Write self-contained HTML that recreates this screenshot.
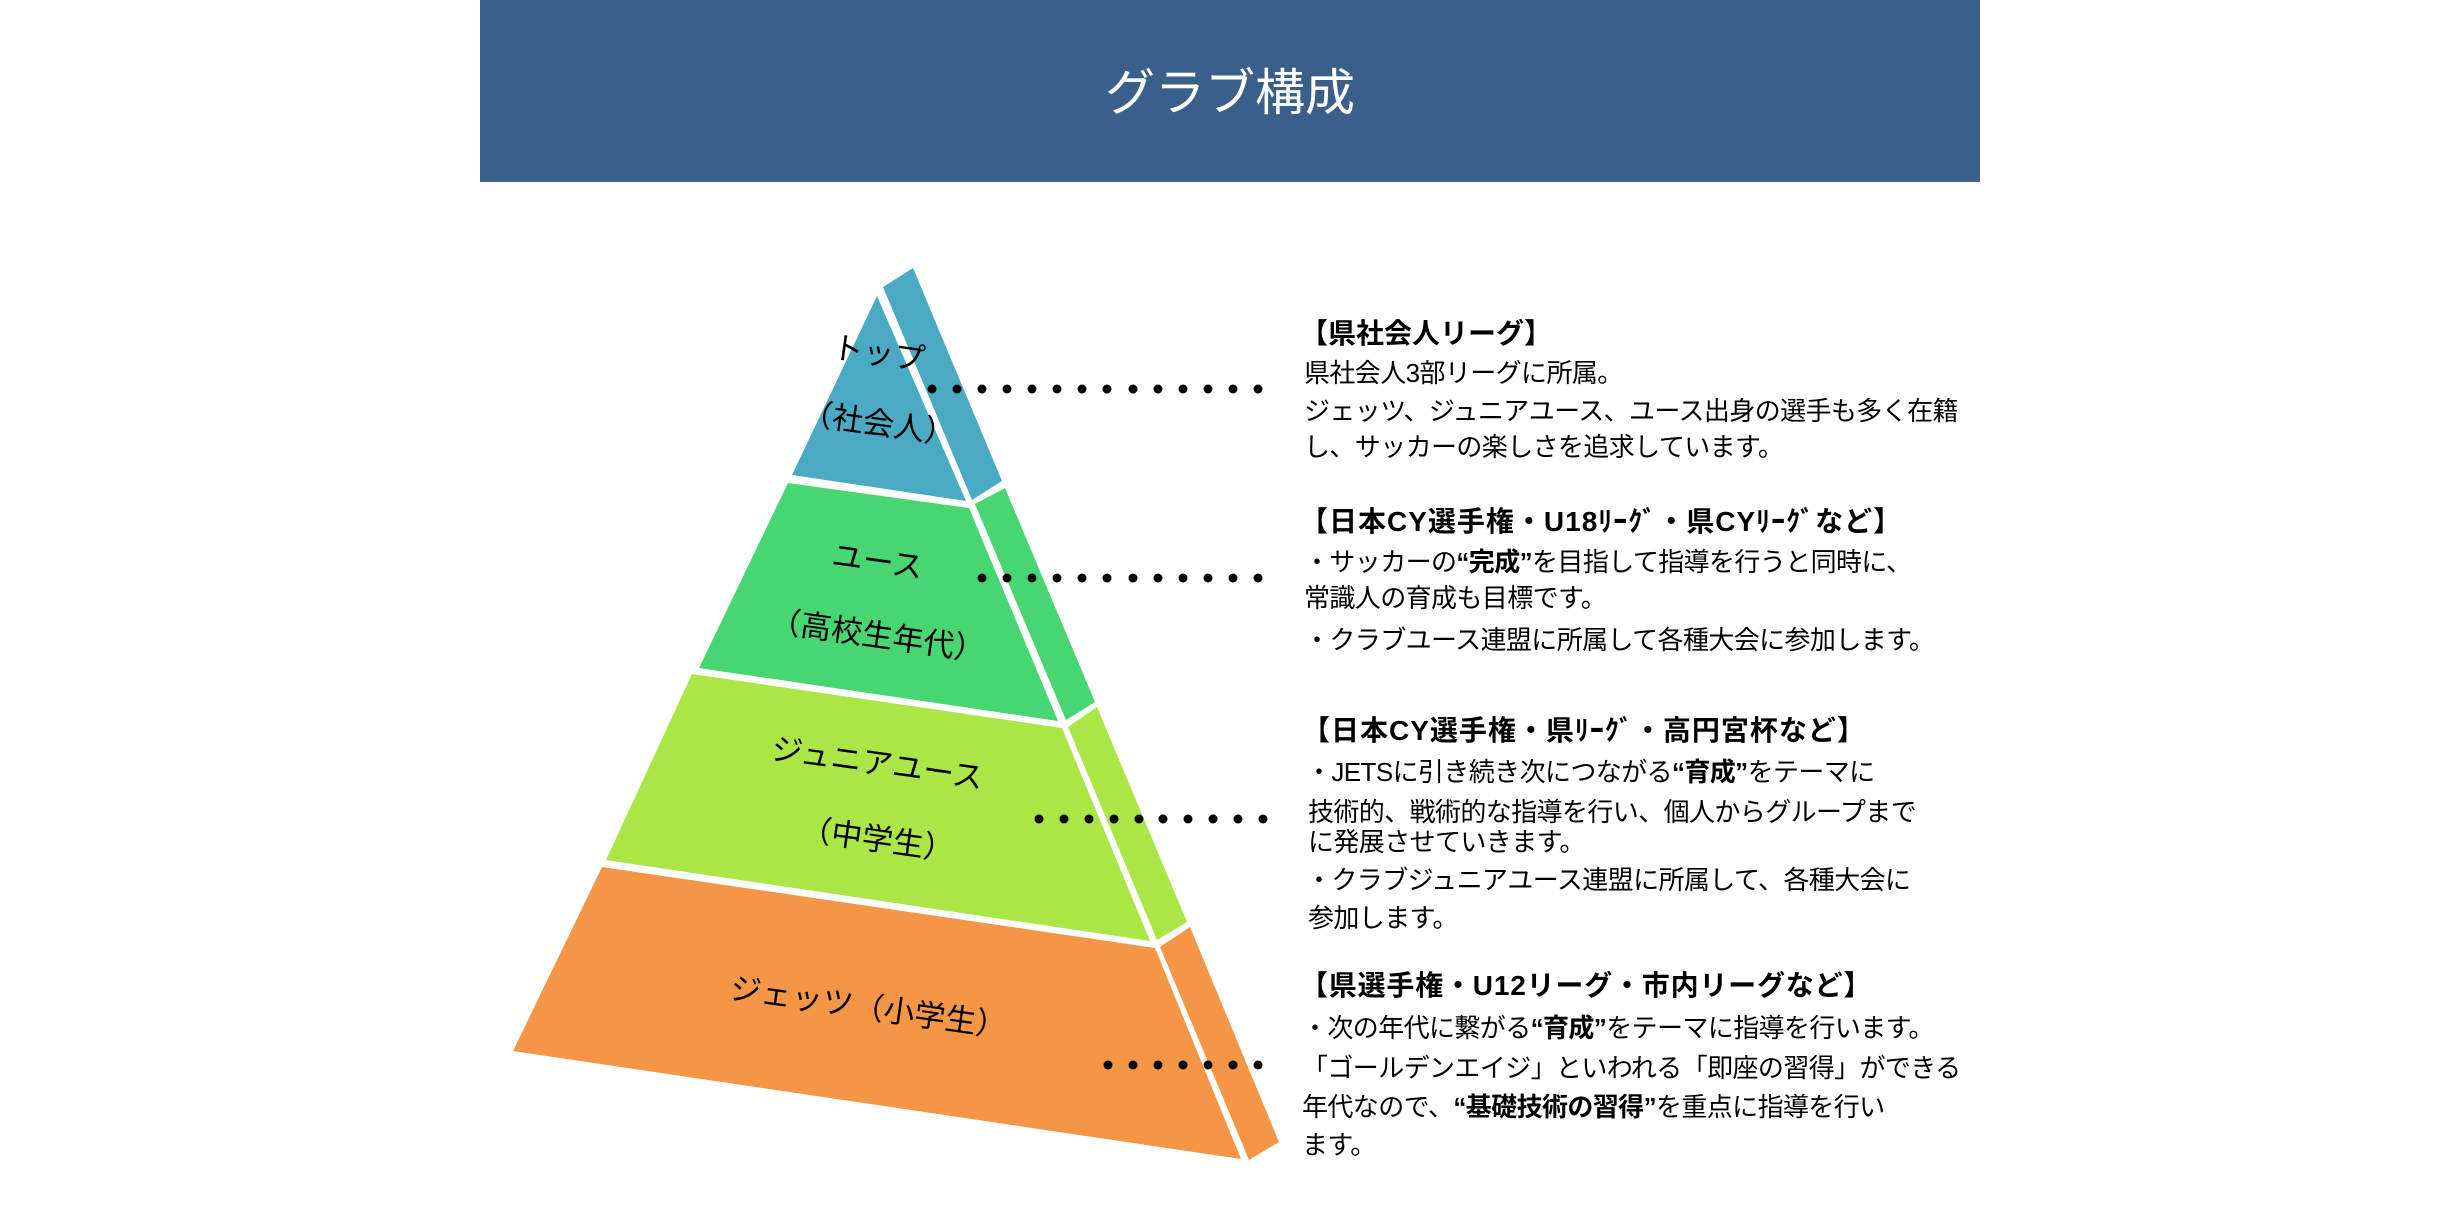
<!DOCTYPE html>
<html><head><meta charset="utf-8"><style>
html,body{margin:0;padding:0;background:#fff;}
svg{display:block;}
.j{font-family:"Liberation Sans","Noto Sans CJK JP",sans-serif;}
</style></head><body>
<svg width="2460" height="1230" viewBox="0 0 2460 1230" xmlns="http://www.w3.org/2000/svg" class="j">
<rect x="480" y="0" width="1500" height="182" fill="#3a5f8a"/>
<text x="1230" y="110" font-size="50" fill="#fff" text-anchor="middle" class="j">グラブ構成</text>

<polygon points="877,296 792,475 966,501" fill="#4aaac4"/>
<polygon points="883,287 913,268 1002,481 972,500" fill="#4aaac4"/>
<polygon points="788,483 969,508 1058,721 699,668" fill="#47d672"/>
<polygon points="975,504 1005,488 1095,702 1066,720" fill="#47d672"/>
<polygon points="692,674 1062,728 1150,941 606,860" fill="#aae646"/>
<polygon points="1068,727 1097,707 1187,922 1157,940" fill="#aae646"/>
<polygon points="602,867 1155,948 1241,1159 513,1051" fill="#f49646"/>
<polygon points="1160,947 1190,927 1279,1142 1249,1160" fill="#f49646"/>

<g font-size="31" fill="#000" text-anchor="middle">
<text transform="translate(877,364) rotate(8)">トップ</text>
<text transform="translate(877,434) rotate(8)">（社会人）</text>
<text transform="translate(876,572) rotate(8)">ユース</text>
<text transform="translate(876,646) rotate(8)">（高校生年代）</text>
<text transform="translate(876,774) rotate(8)">ジュニアユース</text>
<text transform="translate(876,850) rotate(8)">（中学生）</text>
<text transform="translate(867,1018) rotate(8)">ジェッツ（小学生）</text>
</g>

<g fill="#000">
<circle cx="932" cy="389" r="4.5"/><circle cx="957" cy="389" r="4.5"/><circle cx="982" cy="389" r="4.5"/><circle cx="1007" cy="389" r="4.5"/><circle cx="1032" cy="389" r="4.5"/><circle cx="1057" cy="389" r="4.5"/><circle cx="1082" cy="389" r="4.5"/><circle cx="1107" cy="389" r="4.5"/><circle cx="1133" cy="389" r="4.5"/><circle cx="1158" cy="389" r="4.5"/><circle cx="1183" cy="389" r="4.5"/><circle cx="1208" cy="389" r="4.5"/><circle cx="1233" cy="389" r="4.5"/><circle cx="1258" cy="389" r="4.5"/>
<circle cx="982" cy="578" r="4.5"/><circle cx="1007" cy="578" r="4.5"/><circle cx="1032" cy="578" r="4.5"/><circle cx="1057" cy="578" r="4.5"/><circle cx="1082" cy="578" r="4.5"/><circle cx="1107" cy="578" r="4.5"/><circle cx="1133" cy="578" r="4.5"/><circle cx="1158" cy="578" r="4.5"/><circle cx="1183" cy="578" r="4.5"/><circle cx="1208" cy="578" r="4.5"/><circle cx="1233" cy="578" r="4.5"/><circle cx="1258" cy="578" r="4.5"/>
<circle cx="1039" cy="819" r="4.5"/><circle cx="1064" cy="819" r="4.5"/><circle cx="1089" cy="819" r="4.5"/><circle cx="1114" cy="819" r="4.5"/><circle cx="1139" cy="819" r="4.5"/><circle cx="1163" cy="819" r="4.5"/><circle cx="1188" cy="819" r="4.5"/><circle cx="1213" cy="819" r="4.5"/><circle cx="1238" cy="819" r="4.5"/><circle cx="1263" cy="819" r="4.5"/>
<circle cx="1108" cy="1065" r="4.5"/><circle cx="1133" cy="1065" r="4.5"/><circle cx="1158" cy="1065" r="4.5"/><circle cx="1183" cy="1065" r="4.5"/><circle cx="1208" cy="1065" r="4.5"/><circle cx="1233" cy="1065" r="4.5"/><circle cx="1258" cy="1065" r="4.5"/>
</g>

<g font-size="26" fill="#000" letter-spacing="-0.6">
<text x="1300" y="343" font-weight="bold" font-size="28" letter-spacing="0">【県社会人リーグ】</text>
<text x="1304" y="382">県社会人3部リーグに所属。</text>
<text x="1304" y="420">ジェッツ、ジュニアユース、ユース出身の選手も多く在籍</text>
<text x="1304" y="456">し、サッカーの楽しさを追求しています。</text>

<text x="1300" y="531" font-weight="bold" font-size="28" letter-spacing="1">【日本CY選手権・U18ﾘｰｸﾞ・県CYﾘｰｸﾞなど】</text>
<text x="1304" y="571">・サッカーの<tspan font-weight="bold">“完成”</tspan>を目指して指導を行うと同時に、</text>
<text x="1304" y="607">常識人の育成も目標です。</text>
<text x="1304" y="649">・クラブユース連盟に所属して各種大会に参加します。</text>

<text x="1302" y="740" font-weight="bold" font-size="28" letter-spacing="1">【日本CY選手権・県ﾘｰｸﾞ・高円宮杯など】</text>
<text x="1306" y="781">・JETSに引き続き次につながる<tspan font-weight="bold">“育成”</tspan>をテーマに</text>
<text x="1308" y="821">技術的、戦術的な指導を行い、個人からグループまで</text>
<text x="1308" y="851">に発展させていきます。</text>
<text x="1306" y="889">・クラブジュニアユース連盟に所属して、各種大会に</text>
<text x="1308" y="927">参加します。</text>

<text x="1300" y="995" font-weight="bold" font-size="28" letter-spacing="0.8">【県選手権・U12リーグ・市内リーグなど】</text>
<text x="1302" y="1037">・次の年代に繋がる<tspan font-weight="bold">“育成”</tspan>をテーマに指導を行います。</text>
<text x="1302" y="1077">「ゴールデンエイジ」といわれる「即座の習得」ができる</text>
<text x="1302" y="1116">年代なので、<tspan font-weight="bold">“基礎技術の習得”</tspan>を重点に指導を行い</text>
<text x="1302" y="1154">ます。</text>
</g>
</svg>
</body></html>
